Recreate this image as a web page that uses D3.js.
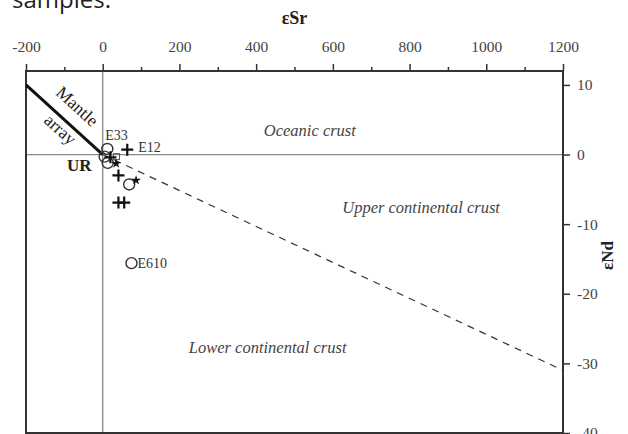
<!DOCTYPE html>
<html lang="en">
<head>
    <meta charset="UTF-8">
    <title>eSr vs eNd</title>
    <style>
        body { margin: 0; background: #fff; }
        svg text { font-family: "Liberation Serif", "Times New Roman", serif; }
    </style>
</head>
<body>
<script src="https://d3js.org/d3.v7.min.js"></script>
<script>
    // axis ticks
    var srTicks = [-200, 0, 200, 400, 600, 800, 1000, 1200];
    var srMinor = [-100, 100, 300, 500, 700, 900, 1100];
    var ndTicks = [10, 0, -10, -20, -30, -40];

    // reference lines
    var mantleSr = [-200, 0];
    var mantleNd = [10, 0];
    var mixSr = [0, 1200];
    var mixNd = [0, -31];

    // samples
    var crossSr = [64, 41, 41, 56, 20];
    var crossNd = [0.7, -3.0, -6.9, -6.9, -0.4];
    var circleSr = [12, 5, 13, 69, 75];
    var circleNd = [0.8, -0.3, -1.2, -4.3, -15.6];
    var starSr = [35, 87];
    var starNd = [-1.3, -3.7];
    var squareSr = [36];
    var squareNd = [-0.3];

    var names = [["E33", 12, 0.7, -2, -10], ["E12", 64, 0.7, 11, 2], ["E610", 75, -15.6, 6, 5]];
    var regions = [["Oceanic crust", 540, 3.4], ["Upper continental crust", 830, -7.7], ["Lower continental crust", 430, -27.8]];

    var svg = d3.select("body")
                .append("svg")
                .attr("width", 628)
                .attr("height", 434);

    var x = d3.scaleLinear().domain([-200, 1200]).range([26, 563]);
    var y = d3.scaleLinear().domain([-40, 12]).range([433, 71]);
    var fmt = function (d) { return String(d); };

    // leftover caption from the page the chart was cut from
    svg.append("text")
        .attr("x", 12).attr("y", 8)
        .style("font-family", "'Open Sans', sans-serif")
        .style("font-size", "24px")
        .attr("fill", "#222")
        .text("samples.");

    // zero lines
    svg.append("line")
        .attr("x1", x(-200)).attr("x2", x(1200))
        .attr("y1", y(0)).attr("y2", y(0))
        .attr("stroke", "#888").attr("stroke-width", 1.3);
    svg.append("line")
        .attr("x1", x(0)).attr("x2", x(0))
        .attr("y1", y(12)).attr("y2", y(-40))
        .attr("stroke", "#888").attr("stroke-width", 1.3);

    // top axis
    var topAxis = svg.append("g").attr("transform", "translate(0," + y(12) + ")")
        .call(d3.axisTop(x).tickValues(srTicks).tickSize(7).tickPadding(12).tickFormat(fmt));
    svg.append("g").attr("transform", "translate(0," + y(12) + ")")
        .call(d3.axisTop(x).tickValues(srMinor).tickSize(4).tickFormat(""));

    // right axis
    var rightAxis = svg.append("g").attr("transform", "translate(" + x(1200) + ",0)")
        .call(d3.axisRight(y).tickValues(ndTicks).tickSize(7).tickPadding(7).tickFormat(fmt));

    svg.selectAll(".domain").remove();
    svg.selectAll(".tick line").attr("stroke", "#333").attr("stroke-width", 1.5);
    svg.selectAll(".tick text")
        .attr("fill", "#444")
        .style("font-family", "'Liberation Serif', serif")
        .style("font-size", "15.5px");

    // frame
    svg.append("rect")
        .attr("x", x(-200)).attr("y", y(12))
        .attr("width", x(1200) - x(-200)).attr("height", y(-40) - y(12))
        .attr("fill", "none").attr("stroke", "#333").attr("stroke-width", 2);

    // axis titles
    svg.append("text")
        .attr("x", x(500)).attr("y", 24)
        .attr("text-anchor", "middle")
        .style("font-size", "18px").style("font-weight", "bold")
        .attr("fill", "#222")
        .text("εSr");
    svg.append("text")
        .attr("transform", "translate(613," + y(-14.5) + ") rotate(-90)")
        .attr("text-anchor", "middle")
        .style("font-size", "17px").style("font-weight", "bold")
        .attr("fill", "#222")
        .text("εNd");

    // mantle array and mixing line
    var line = d3.line().x(function (d) { return x(d[0]); }).y(function (d) { return y(d[1]); });
    svg.append("path")
        .attr("d", line(d3.zip(mantleSr, mantleNd)))
        .attr("stroke", "#111").attr("stroke-width", 3).attr("fill", "none");
    svg.append("path")
        .attr("d", line(d3.zip(mixSr, mixNd)))
        .attr("stroke", "#333").attr("stroke-width", 1.2).attr("fill", "none")
        .attr("stroke-dasharray", "7,6");

    var ang = Math.atan2(y(0) - y(10), x(0) - x(-200)) * 180 / Math.PI;
    svg.append("text")
        .attr("transform", "translate(" + (x(-100) + 9) + "," + (y(5) - 9) + ") rotate(" + ang + ")")
        .attr("text-anchor", "middle")
        .style("font-size", "17.5px").attr("fill", "#222")
        .text("Mantle");
    svg.append("text")
        .attr("transform", "translate(" + (x(-100) - 8) + "," + (y(5) + 14) + ") rotate(" + ang + ")")
        .attr("text-anchor", "middle")
        .style("font-size", "17.5px").attr("fill", "#222")
        .text("array");

    svg.append("text")
        .attr("x", 67).attr("y", y(0) + 16)
        .style("font-size", "17px").style("font-weight", "bold")
        .attr("fill", "#222")
        .text("UR");

    // region labels
    svg.selectAll(".region").data(regions).enter().append("text")
        .attr("x", function (d) { return x(d[1]); })
        .attr("y", function (d) { return y(d[2]) + 5; })
        .attr("text-anchor", "middle")
        .style("font-size", "16.5px").style("font-style", "italic")
        .attr("fill", "#444")
        .text(function (d) { return d[0]; });

    // samples
    svg.selectAll(".sq").data(d3.zip(squareSr, squareNd)).enter().append("rect")
        .attr("x", function (d) { return x(d[0]) - 3; })
        .attr("y", function (d) { return y(d[1]) - 3; })
        .attr("width", 6).attr("height", 6)
        .attr("fill", "none").attr("stroke", "#555").attr("stroke-width", 1);

    svg.selectAll(".circ").data(d3.zip(circleSr, circleNd)).enter().append("circle")
        .attr("cx", function (d) { return x(d[0]); })
        .attr("cy", function (d) { return y(d[1]); })
        .attr("r", 5.5)
        .attr("fill", "none").attr("stroke", "#333").attr("stroke-width", 1.4);

    svg.selectAll(".cross").data(d3.zip(crossSr, crossNd)).enter().append("path")
        .attr("transform", function (d) { return "translate(" + x(d[0]) + "," + y(d[1]) + ")"; })
        .attr("d", "M-6,0H6M0,-6V6")
        .attr("stroke", "#111").attr("stroke-width", 2.2);

    svg.selectAll(".star").data(d3.zip(starSr, starNd)).enter().append("path")
        .attr("transform", function (d) { return "translate(" + x(d[0]) + "," + y(d[1]) + ")"; })
        .attr("d", d3.symbol().type(d3.symbolStar).size(30))
        .attr("fill", "#111");

    svg.selectAll(".name").data(names).enter().append("text")
        .attr("x", function (d) { return x(d[1]) + d[3]; })
        .attr("y", function (d) { return y(d[2]) + d[4]; })
        .style("font-size", "14px").attr("fill", "#333")
        .text(function (d) { return d[0]; });
</script>
</body>
</html>
